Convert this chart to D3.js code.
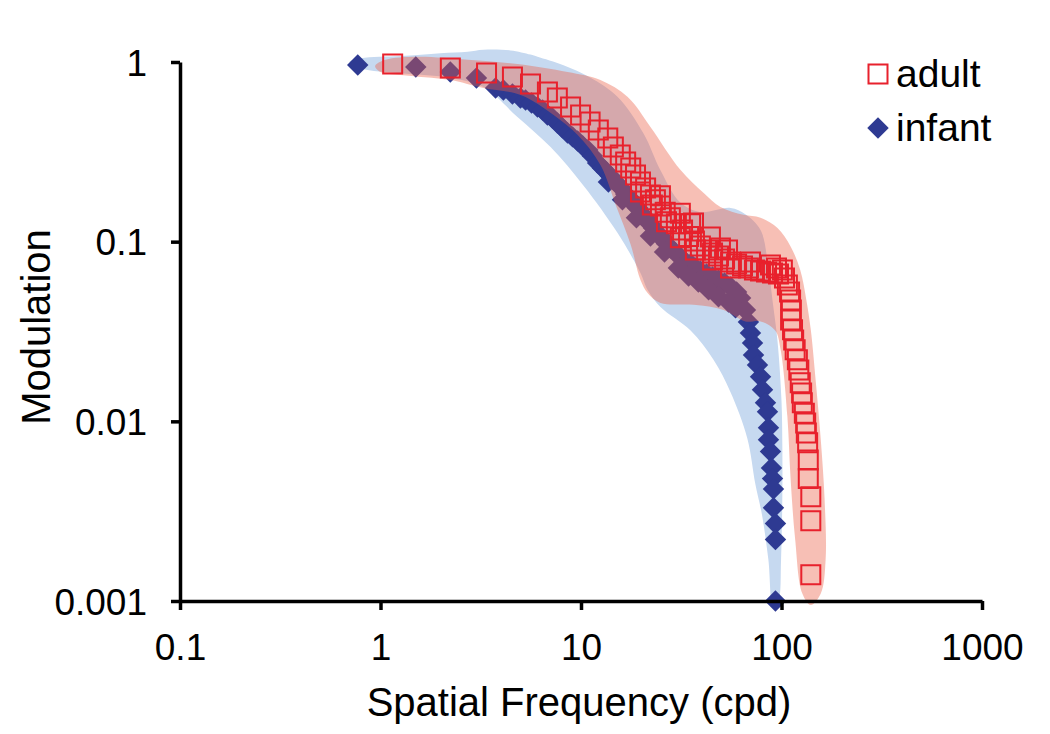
<!DOCTYPE html>
<html><head><meta charset="utf-8">
<script src="https://cdn.jsdelivr.net/npm/d3@7"></script>
<style>body{margin:0;background:#fff}svg{display:block}text{font-family:"Liberation Sans",Arial,Helvetica,sans-serif}</style>
</head><body>
<svg id="chart" width="1050" height="734"></svg>
<script>
// ---- data (spatial frequency in cpd, modulation) ----
const xTicks = [0.1, 1, 10, 100, 1000];
const xTickLabels = ["0.1", "1", "10", "100", "1000"];
const yTicks = [1, 0.1, 0.01, 0.001];
const yTickLabels = ["1", "0.1", "0.01", "0.001"];
const seriesNames = ["adult", "infant"];

const infantFreq = [0.77,1.50,2.23,3.01,3.75,4.10,4.55,4.99,5.29,5.67,6.07,6.43,6.80,7.20,7.62,8.08,8.57,9.08,9.62,10.2,10.8,11.4,12.1,12.8,13.4,14.0,14.9,15.7,16.7,17.5,18.3,19.2,20.1,21.0,22.0,23.0,24.1,25.5,26.7,27.9,29.6,31.3,33.1,35.2,37.2,39.4,42.3,45.3,48.5,52.0,55.7,59.7,62.5,
  13.7,16.1,18.9,22.2,26.1,30.6,34.4,38.5,43.3,48.5,54.4,59.0,
  66.1,68.4,70.0,71.7,72.5,75.9,78.6,80.4,83.2,85.1,86.1,86.1,88.1,89.1,90.2,91.2,91.2,93.3,93.3,93.3];
const infantMod = [0.962,0.938,0.880,0.815,0.717,0.698,0.664,0.631,0.615,0.592,0.562,0.541,0.507,0.488,0.458,0.430,0.403,0.383,0.363,0.341,0.324,0.300,0.274,0.257,0.244,0.232,0.215,0.201,0.184,0.175,0.162,0.154,0.143,0.136,0.126,0.119,0.110,0.105,0.0975,0.0923,0.0865,0.0822,0.0771,0.0752,0.0714,0.0687,0.0661,0.0637,0.0612,0.0589,0.0560,0.0525,0.0486,
  0.215,0.171,0.136,0.1075,0.0877,0.0714,0.0644,0.0597,0.0539,0.0493,0.0462,0.0428,
  0.0417,0.0357,0.0310,0.0273,0.0234,0.0206,0.0177,0.0150,0.0127,0.0113,0.0092,0.0079,0.0068,0.0055,0.0048,0.0042,0.0033,0.0027,0.0022,0.0010];

const adultFreq = [1.15,2.23,3.38,4.55,5.60,6.80,7.62,8.87,9.95,11.1,12.2,13.6,14.5,15.7,16.7,17.7,18.7,19.8,21.0,22.2,23.5,24.9,26.3,27.9,29.9,32.1,34.4,36.8,39.4,42.3,45.3,48.5,52.0,55.7,59.7,63.9,68.4,73.3,78.6,84.2,90.2,96.6,
  19.8,22.7,26.7,31.3,37.2,45.3,55.7,24.9,35.2,49.6,70.0,31.3,36.4,44.2,53.8,
  88.1,94.4,101,103.5,107,109.7,
  111,112,111,113.5,115,117,120,122,124,126,127,130,132,133,135,136,136,140,140,140];
const adultMod = [0.975,0.926,0.869,0.826,0.754,0.681,0.631,0.562,0.507,0.464,0.418,0.378,0.336,0.304,0.278,0.257,0.235,0.215,0.199,0.182,0.171,0.158,0.146,0.136,0.126,0.116,0.107,0.101,0.0946,0.0899,0.0865,0.0832,0.0801,0.0771,0.0752,0.0733,0.0714,0.0696,0.0687,0.0678,0.0670,0.0661,
  0.189,0.160,0.129,0.105,0.0899,0.0791,0.0714,0.180,0.126,0.0923,0.0771,0.144,0.127,0.106,0.0899,
  0.0742,0.0714,0.0696,0.0628,0.0574,0.0525,
  0.0474,0.0417,0.0367,0.0323,0.0284,0.0250,0.0220,0.0193,0.0164,0.0144,0.0127,0.0111,0.0098,0.0086,0.0076,0.0061,0.0048,0.0038,0.0028,0.0014];

// confidence bands (outline, frequency / modulation)
const infantBandFreq = [0.70,0.80,1.26,1.99,2.72,3.26,4.45,5.60,6.07,8.18,11.1,15.2,20.5,24.9,31.3,39.4,55.7,66.0,78.6,85.1,90.2,95.5,100,101,101,99.5,96.5,
  91.0,86.0,80.0,74.0,67.6,55.7,45.8,35.2,24.9,21.5,19.8,15.2,10.3,7.05,4.82,3.26,2.17,1.26,0.80];
const infantBandMod = [1.0,1.05,1.08,1.12,1.14,1.17,1.16,1.10,1.07,0.96,0.82,0.64,0.40,0.25,0.165,0.146,0.154,0.142,0.116,0.079,0.047,0.028,0.013,0.0070,0.0040,0.0017,0.00098,
  0.00090,0.0017,0.0030,0.0045,0.0080,0.0145,0.0220,0.0320,0.0433,0.0539,0.0670,0.112,0.205,0.336,0.494,0.725,0.82,0.865,0.92];
const adultBandFreq = [0.94,1.06,1.53,2.72,4.82,8.57,12.5,17.1,22.2,31.3,40.8,49.6,64.6,78.6,95.5,111,124,133,140,148,157,164,166,157,140,127,117,111,107,99,93,78.6,66,51.4,36.4,24.9,21.5,19.8,17.7,14.9,12.5,9.6,7.3,5.0,3.26,2.23,1.26,1.0];
const adultBandMod = [0.95,1.03,1.07,1.03,0.975,0.88,0.794,0.638,0.435,0.251,0.187,0.156,0.141,0.136,0.119,0.094,0.0696,0.0474,0.0323,0.017,0.0079,0.0037,0.0017,0.0011,0.00095,0.0011,0.0022,0.0048,0.0106,0.025,0.032,0.036,0.036,0.0417,0.0445,0.0456,0.0518,0.0612,0.096,0.16,0.267,0.393,0.507,0.655,0.716,0.794,0.847,0.88];

// ---- drawing ----
const svg = d3.select("#chart");
const x = d3.scaleLog().domain([0.1, 1000]).range([180, 982]);
const y = d3.scaleLog().domain([0.001, 1]).range([601, 62]);

const zipPts = (fs, ms) => fs.map((f, i) => [f, ms[i]]);
const bandLine = d3.line().x(d => x(d[0])).y(d => y(d[1])).curve(d3.curveCatmullRomClosed.alpha(0.5));

// infant band
svg.append("path").attr("d", bandLine(zipPts(infantBandFreq, infantBandMod)))
  .attr("fill", "rgb(198,217,240)").attr("stroke", "none");

// infant diamonds
const diamond = d3.symbol().type(d3.symbolSquare).size(230);
svg.append("g").selectAll("path").data(zipPts(infantFreq, infantMod)).join("path")
  .attr("d", diamond)
  .attr("transform", d => `translate(${x(d[0])},${y(d[1])}) rotate(45)`)
  .attr("fill", "#2E3A92");

// adult band
svg.append("path").attr("d", bandLine(zipPts(adultBandFreq, adultBandMod)))
  .attr("fill", "rgb(236,96,70)").attr("fill-opacity", 0.4).attr("stroke", "none");

// adult squares
const sq = d3.symbol().type(d3.symbolSquare).size(361);
svg.append("g").selectAll("path").data(zipPts(adultFreq, adultMod)).join("path")
  .attr("d", sq)
  .attr("transform", d => `translate(${x(d[0])},${y(d[1])})`)
  .attr("fill", "none").attr("stroke", "#E8212C").attr("stroke-width", 2);

// axes
const fmtX = d => xTickLabels[xTicks.indexOf(d)];
const fmtY = d => yTickLabels[yTicks.indexOf(d)];
const gx = svg.append("g").attr("transform", "translate(0,601)")
  .call(d3.axisBottom(x).tickValues(xTicks).tickFormat(fmtX).tickSize(9).tickSizeOuter(0).tickPadding(24));
const gy = svg.append("g").attr("transform", "translate(180,0)")
  .call(d3.axisLeft(y).tickValues(yTicks).tickFormat(fmtY).tickSize(9).tickSizeOuter(0).tickPadding(24));
[gx, gy].forEach(g => {
  g.select(".domain").attr("stroke", "#000").attr("stroke-width", 3.5);
  g.selectAll(".tick line").attr("stroke", "#000").attr("stroke-width", 3.5);
  g.selectAll(".tick text").attr("fill", "#000").style("font-size", "37px")
    .style("font-family", '"Liberation Sans",Arial,sans-serif');
});
gx.selectAll(".tick text").attr("dy", "0.71em");
gy.selectAll(".tick text").attr("dy", "0.36em");

// axis titles
svg.append("text").attr("x", 579).attr("y", 716).attr("text-anchor", "middle")
  .style("font-size", "40px").text("Spatial Frequency (cpd)");
svg.append("text").attr("transform", "translate(50,327) rotate(-90)").attr("text-anchor", "middle")
  .style("font-size", "40px").text("Modulation");

// legend
const lg = svg.append("g");
lg.append("path").attr("d", d3.symbol().type(d3.symbolSquare).size(361))
  .attr("transform", "translate(878,74)").attr("fill", "#fff").attr("stroke", "#E8212C").attr("stroke-width", 2);
lg.append("text").attr("x", 896).attr("y", 87).style("font-size", "39px").text(seriesNames[0]);
lg.append("path").attr("d", d3.symbol().type(d3.symbolSquare).size(230))
  .attr("transform", "translate(878,128) rotate(45)").attr("fill", "#2E3A92");
lg.append("text").attr("x", 896).attr("y", 141).style("font-size", "39px").text(seriesNames[1]);
</script>
</body></html>
